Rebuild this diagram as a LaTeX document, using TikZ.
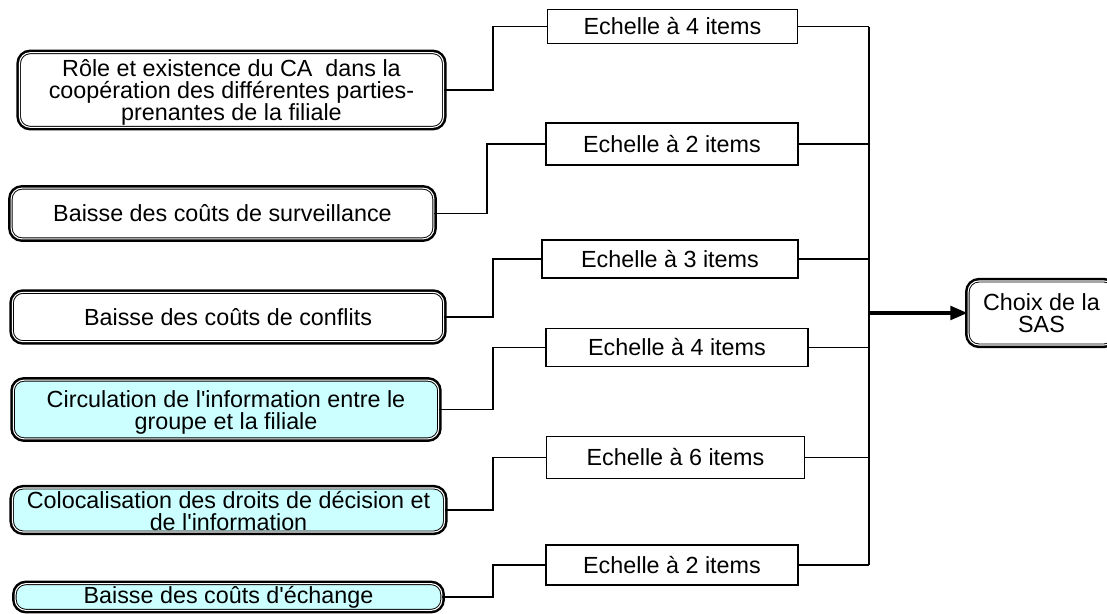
\documentclass[tikz,border=0pt]{standalone}
\usepackage{fontspec}
\setmainfont{Liberation Sans}
\usepackage{xcolor}
\usetikzlibrary{arrows.meta}
\definecolor{lightcyan}{RGB}{204,255,255}

\begin{document}
\begin{tikzpicture}[x=0.75pt,y=0.75pt,yscale=-1,xscale=1,
  factor/.style={fill=white, preaction={draw, line width=4.6pt}, draw, double=white, line width=0.7pt, double distance=0.8pt, rounded corners=8pt, align=center, inner sep=0pt, font=\fontsize{17.5}{16}\selectfont},
  label text/.style={align=center, inner sep=0pt, font=\fontsize{17.5}{16.5}\selectfont},
  item/.style={draw, line width=0.85pt, inner sep=0pt, font=\fontsize{17.5}{16}\selectfont},
  link/.style={line width=0.8pt},
  thickarrow/.style={line width=3pt, -{Triangle[length=13pt,width=10pt]}}]
\useasboundingbox (0,0) rectangle (1107,614);
\clip (0,0) rectangle (1107,614);

%Shape: Rounded Rect, double (factors)
\node [factor, minimum width=318pt, minimum height=56pt] (f1) at (231.5,90) {};
\node [label text] (f1text) at (231.5,92.5) {R\^ole et existence du CA~ dans la\\coop\'eration des diff\'erentes parties-\\prenantes de la filiale};
\node [factor, minimum width=317pt, minimum height=38pt] (f2) at (222.5,213.5) {Baisse des co\^uts de surveillance};
\node [factor, minimum width=323.5pt, minimum height=37pt] (f3) at (228,317) {Baisse des co\^uts de conflits};
\node [factor, fill=lightcyan, minimum width=319pt, minimum height=44pt] (f4) at (226,409.5) {};
\node [label text] (f4text) at (226,412) {Circulation de l\textquotesingle information entre le\\groupe et la filiale};
\node [factor, fill=lightcyan, minimum width=324pt, minimum height=33pt] (f5) at (228.5,510) {};
\node [label text] (f5text) at (228.5,511.5) {Colocalisation des droits de d\'ecision et\\de l\textquotesingle information};
\node [factor, fill=lightcyan, minimum width=320pt, minimum height=20pt] (f6) at (228.5,597) {Baisse des co\^uts d\textquotesingle\'echange};

%Shape: Rectangle (scales)
\node [item, minimum width=188pt, minimum height=26pt] (m1) at (672.5,26.5) {Echelle \`a 4 items};
\node [item, minimum width=189pt, minimum height=31.5pt] (m2) at (672,144) {Echelle \`a 2 items};
\node [item, minimum width=192pt, minimum height=28.5pt] (m3) at (670,259) {Echelle \`a 3 items};
\node [item, minimum width=196.5pt, minimum height=29pt] (m4) at (677,347.5) {Echelle \`a 4 items};
\node [item, minimum width=194pt, minimum height=31pt] (m5) at (675.5,457.5) {Echelle \`a 6 items};
\node [item, minimum width=189pt, minimum height=30pt] (m6) at (672,565) {Echelle \`a 2 items};

%Shape: Rounded Rect, double (result)
\node [factor, minimum width=110pt, minimum height=48pt] (choix) at (1041.5,313) {Choix de la\\SAS};

\coordinate (elbow) at (493,0);
\coordinate (elbowb) at (487,0);
\coordinate (bus) at (869,0);

%Straight Lines: factors to scales
\draw [link] (f1.east) -- (f1.east -| elbow) |- (m1.west);
\draw [link] (f2.east) -- (f2.east -| elbowb) |- (m2.west);
\draw [link] (f3.east) -- (f3.east -| elbow) |- (m3.west);
\draw [link] (f4.east) -- (f4.east -| elbow) |- (m4.west);
\draw [link] (f5.east) -- (f5.east -| elbow) |- (m5.west);
\draw [link] (f6.east) -- (f6.east -| elbow) |- (m6.west);

%Straight Lines: scales to bus
\draw [link] (m1.east) -- (m1.east -| bus);
\draw [link] (m2.east) -- (m2.east -| bus);
\draw [link] (m3.east) -- (m3.east -| bus);
\draw [link] (m4.east) -- (m4.east -| bus);
\draw [link] (m5.east) -- (m5.east -| bus);
\draw [link] (m6.east) -- (m6.east -| bus);
\draw [link] (m1.east -| bus) -- (m6.east -| bus);

%Straight Lines: bus to result
\draw [thickarrow] (choix.west -| bus) -- (choix.west);

\end{tikzpicture}
\end{document}
